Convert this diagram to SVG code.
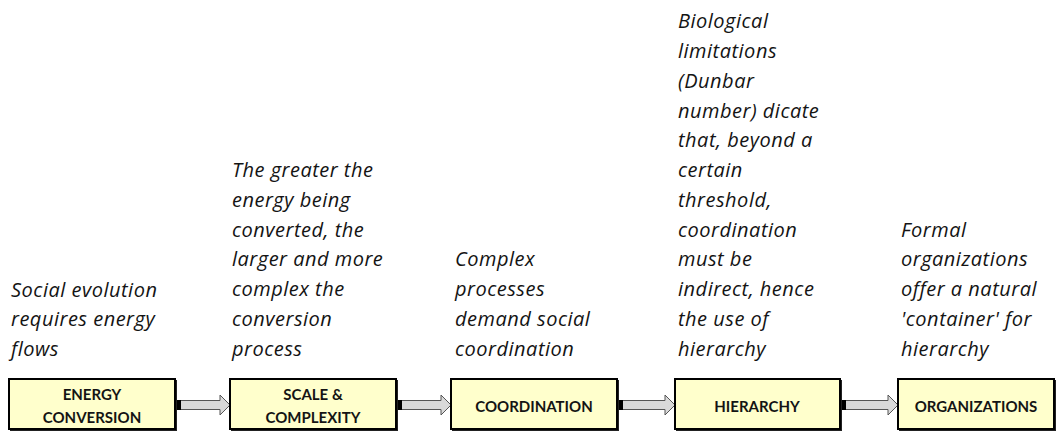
<svg xmlns="http://www.w3.org/2000/svg" width="1057" height="440" viewBox="0 0 1057 440">
<style>
.note{font-family:"Open Sans","Liberation Sans",sans-serif;font-style:italic;font-size:20px;letter-spacing:0.5px;fill:#141414}
.lbl{font-family:Lato,"Liberation Sans",sans-serif;font-weight:bold;font-size:15px;fill:#141414;text-anchor:middle}
.box{fill:#FFFFCC;stroke:#000;stroke-width:2}
.shadow{fill:#222}
.arr{fill:#D9D9D9;stroke:#555;stroke-width:1}
.tail{fill:#000}
</style>
<rect width="1057" height="440" fill="#fff"/>
<g id="connectors">
  <g id="arrow1"><polygon class="arr" points="180.5,400.5 220,400.5 220,395 230,405 220,415 220,409.5 180.5,409.5"/><rect class="tail" x="176" y="400" width="5" height="10"/></g>
  <g id="arrow2"><polygon class="arr" points="401.5,400.5 441,400.5 441,395 451,405 441,415 441,409.5 401.5,409.5"/><rect class="tail" x="397" y="400" width="5" height="10"/></g>
  <g id="arrow3"><polygon class="arr" points="622.5,400.5 665,400.5 665,395 675,405 665,415 665,409.5 622.5,409.5"/><rect class="tail" x="618" y="400" width="5" height="10"/></g>
  <g id="arrow4"><polygon class="arr" points="845.5,400.5 888,400.5 888,395 898,405 888,415 888,409.5 845.5,409.5"/><rect class="tail" x="841" y="400" width="5" height="10"/></g>
</g>
<g id="node-energy">
  <rect class="shadow" x="10" y="380" width="167" height="51"/>
  <rect class="box" x="9" y="379" width="166" height="50"/>
  <text class="lbl" x="92" y="400">ENERGY</text>
  <text class="lbl" x="92" y="423">CONVERSION</text>
  <text class="note" x="11"><tspan x="11" y="296.5">Social evolution</tspan><tspan x="11" y="326">requires energy</tspan><tspan x="11" y="355.5">flows</tspan></text>
</g>
<g id="node-scale">
  <rect class="shadow" x="231" y="380" width="167" height="51"/>
  <rect class="box" x="230" y="379" width="166" height="50"/>
  <text class="lbl" x="313" y="400">SCALE &amp;</text>
  <text class="lbl" x="313" y="423">COMPLEXITY</text>
  <text class="note"><tspan x="232" y="177">The greater the</tspan><tspan x="232" y="206.75">energy being</tspan><tspan x="232" y="236.5">converted, the</tspan><tspan x="232" y="266.25">larger and more</tspan><tspan x="232" y="296">complex the</tspan><tspan x="232" y="325.75">conversion</tspan><tspan x="232" y="355.5">process</tspan></text>
</g>
<g id="node-coordination">
  <rect class="shadow" x="452" y="380" width="167" height="51"/>
  <rect class="box" x="451" y="379" width="166" height="50"/>
  <text class="lbl" x="534" y="412">COORDINATION</text>
  <text class="note"><tspan x="455" y="266.25">Complex</tspan><tspan x="455" y="296">processes</tspan><tspan x="455" y="325.75">demand social</tspan><tspan x="455" y="355.5">coordination</tspan></text>
</g>
<g id="node-hierarchy">
  <rect class="shadow" x="676" y="380" width="166" height="51"/>
  <rect class="box" x="675" y="379" width="165" height="50"/>
  <text class="lbl" x="757" y="412">HIERARCHY</text>
  <text class="note"><tspan x="678" y="28.25">Biological</tspan><tspan x="678" y="58">limitations</tspan><tspan x="678" y="87.75">(Dunbar</tspan><tspan x="678" y="117.5">number) dicate</tspan><tspan x="678" y="147.25">that, beyond a</tspan><tspan x="678" y="177">certain</tspan><tspan x="678" y="206.75">threshold,</tspan><tspan x="678" y="236.5">coordination</tspan><tspan x="678" y="266.25">must be</tspan><tspan x="678" y="296">indirect, hence</tspan><tspan x="678" y="325.75">the use of</tspan><tspan x="678" y="355.5">hierarchy</tspan></text>
</g>
<g id="node-organizations">
  <rect class="shadow" x="899" y="380" width="157" height="51"/>
  <rect class="box" x="898" y="379" width="156" height="50"/>
  <text class="lbl" x="976" y="412">ORGANIZATIONS</text>
  <text class="note"><tspan x="901" y="236.5">Formal</tspan><tspan x="901" y="266.25">organizations</tspan><tspan x="901" y="296">offer a natural</tspan><tspan x="901" y="325.75">'container' for</tspan><tspan x="901" y="355.5">hierarchy</tspan></text>
</g>
</svg>
